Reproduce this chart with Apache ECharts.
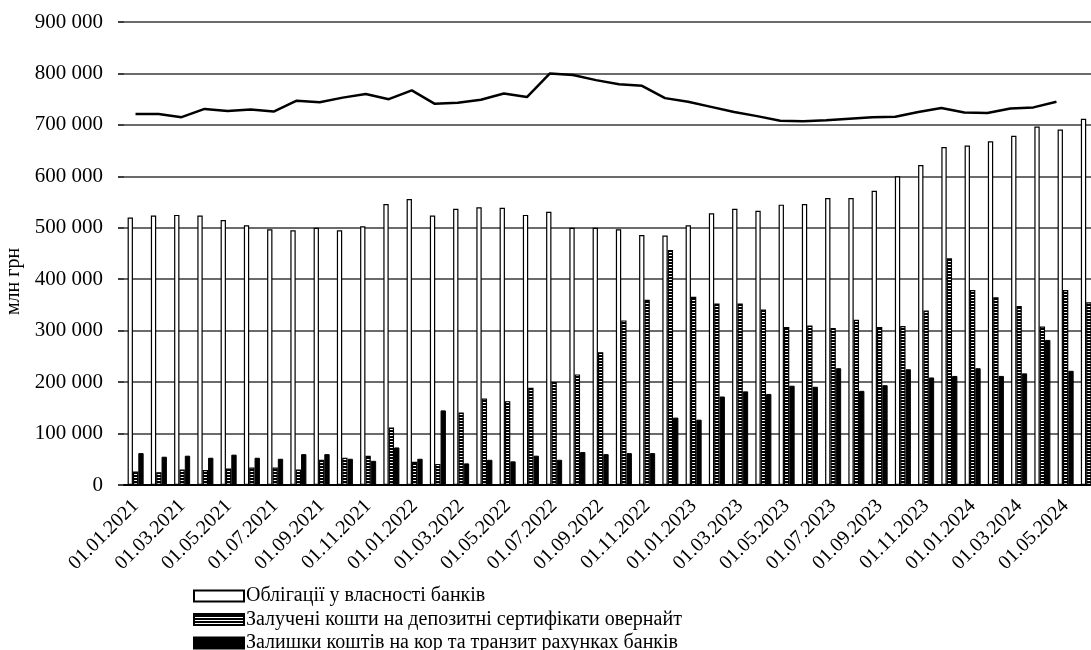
<!DOCTYPE html>
<html>
<head>
<meta charset="utf-8">
<script src="https://cdn.jsdelivr.net/npm/echarts@6/dist/echarts.min.js"></script>
<style>
  html, body { margin: 0; padding: 0; background: #fff; }
  #chart { width: 1091px; height: 650px; }
</style>
</head>
<body>
<div id="chart"></div>
<script>
// months 01.01.2021 .. 01.06.2024
const months = [
  '01.01.2021', '01.02.2021', '01.03.2021', '01.04.2021', '01.05.2021', '01.06.2021',
  '01.07.2021', '01.08.2021', '01.09.2021', '01.10.2021', '01.11.2021', '01.12.2021',
  '01.01.2022', '01.02.2022', '01.03.2022', '01.04.2022', '01.05.2022', '01.06.2022',
  '01.07.2022', '01.08.2022', '01.09.2022', '01.10.2022', '01.11.2022', '01.12.2022',
  '01.01.2023', '01.02.2023', '01.03.2023', '01.04.2023', '01.05.2023', '01.06.2023',
  '01.07.2023', '01.08.2023', '01.09.2023', '01.10.2023', '01.11.2023', '01.12.2023',
  '01.01.2024', '01.02.2024', '01.03.2024', '01.04.2024', '01.05.2024', '01.06.2024'
];

// млн грн
const bonds = [
  520000, 524000, 525000, 524000, 515000, 505000, 497000, 495000, 500000, 495000,
  503000, 546000, 556000, 524000, 537000, 540000, 539000, 525000, 531000, 500000,
  500000, 497000, 486000, 485000, 505000, 528000, 537000, 533000, 545000, 546000,
  558000, 558000, 572000, 600000, 622000, 657000, 660000, 668000, 679000, 697000,
  691000, 712000
];
const certificates = [
  26000, 25000, 30000, 29000, 32000, 34000, 34000, 30000, 49000, 53000,
  57000, 112000, 45000, 41000, 141000, 168000, 163000, 189000, 200000, 215000,
  258000, 320000, 360000, 457000, 366000, 353000, 353000, 341000, 307000, 310000,
  305000, 321000, 307000, 309000, 339000, 441000, 379000, 365000, 348000, 308000,
  379000, 355000
];
const balances = [
  62000, 55000, 57000, 53000, 59000, 53000, 51000, 60000, 60000, 51000,
  47000, 73000, 51000, 145000, 42000, 49000, 46000, 57000, 49000, 64000,
  60000, 62000, 62000, 131000, 127000, 172000, 182000, 177000, 193000, 191000,
  227000, 183000, 194000, 225000, 209000, 212000, 227000, 212000, 217000, 282000,
  222000, null
];
const total = [
  721000, 721000, 715000, 731000, 727000, 730000, 726000, 747000, 744000, 753000,
  760000, 750000, 767000, 741000, 743000, 749000, 761000, 754000, 800000, 797000,
  787000, 779000, 776000, 752000, 745000, 735000, 725000, 717000, 708000, 707000,
  709000, 712000, 715000, 716000, 725000, 733000, 724000, 723000, 732000, 734000,
  745000, null
];

const names = [
  'Облігації у власності банків',
  'Залучені кошти на депозитні сертифікати овернайт',
  'Залишки коштів на кор та транзит рахунках банків'
];

const font = '"Liberation Serif", "Times New Roman", serif';

// horizontal hatching for the overnight certificates
const hatch = document.createElement('canvas');
hatch.width = 4;
hatch.height = 3;
const hctx = hatch.getContext('2d');
hctx.fillStyle = '#fff';
hctx.fillRect(0, 0, 4, 3);
hctx.fillStyle = '#000';
hctx.fillRect(0, 1, 4, 2);

const fmt = (v) => String(v).replace(/\B(?=(\d{3})+(?!\d))/g, ' ');

const chart = echarts.init(document.getElementById('chart'));

const option = {
  animation: false,
  backgroundColor: '#fff',
  textStyle: { fontFamily: font, color: '#000' },
  // bars run a little past the right edge of the picture; the line sits on its own,
  // slightly narrower category scale
  grid: [
    { left: 124, top: 22, bottom: 165, width: 976.5, containLabel: false, outerBoundsMode: 'none' },
    { left: 124, top: 22, bottom: 165, right: 0, containLabel: false, outerBoundsMode: 'none' }
  ],
  legend: {
    data: names,
    orient: 'vertical',
    left: 188,
    top: 581,
    height: 90,
    icon: 'rect',
    itemWidth: 50,
    itemHeight: 11,
    itemGap: 3.5,
    textStyle: { fontFamily: font, fontSize: 20, color: '#000', lineHeight: 20, padding: [0, 0, 0, -3] }
  },
  xAxis: [
    {
      type: 'category',
      gridIndex: 0,
      data: months,
      axisLine: { lineStyle: { color: '#000', width: 2 } },
      axisTick: { show: false },
      axisLabel: {
        interval: 1,
        rotate: 45,
        margin: 18,
        fontFamily: font,
        fontSize: 20,
        color: '#000'
      }
    },
    {
      type: 'category',
      gridIndex: 1,
      data: months,
      show: false
    }
  ],
  yAxis: [
    {
      type: 'value',
      gridIndex: 0,
      min: 0,
      max: 900000,
      interval: 100000,
      name: 'млн грн',
      nameLocation: 'middle',
      nameGap: 96,
      nameTextStyle: { fontFamily: font, fontSize: 20, color: '#000', padding: [0, 56, 0, 0] },
      axisLine: { show: false },
      axisTick: { show: true, length: 6, lineStyle: { color: '#000', width: 1.5 } },
      axisLabel: {
        margin: 21,
        fontFamily: font,
        fontSize: 21,
        color: '#000',
        formatter: fmt
      },
      splitLine: { lineStyle: { color: '#3a3a3a', width: 1.5 } }
    },
    {
      type: 'value',
      gridIndex: 1,
      min: 0,
      max: 900000,
      interval: 100000,
      show: false,
      splitLine: { show: false }
    }
  ],
  series: [
    {
      name: names[0],
      type: 'bar',
      data: bonds,
      barGap: '0%',
      barCategoryGap: '31%',
      itemStyle: { color: '#fff', borderColor: '#000', borderWidth: 1.2 }
    },
    {
      name: names[1],
      type: 'bar',
      data: certificates,
      itemStyle: { color: { image: hatch, repeat: 'repeat' }, borderColor: '#000', borderWidth: 1.2 }
    },
    {
      name: names[2],
      type: 'bar',
      data: balances,
      itemStyle: { color: '#000', borderColor: '#000', borderWidth: 1 }
    },
    {
      name: 'Разом',
      type: 'line',
      xAxisIndex: 1,
      yAxisIndex: 1,
      data: total,
      symbol: 'none',
      z: 5,
      lineStyle: { color: '#000', width: 2.5 }
    }
  ]
};

chart.setOption(option);
</script>
</body>
</html>
